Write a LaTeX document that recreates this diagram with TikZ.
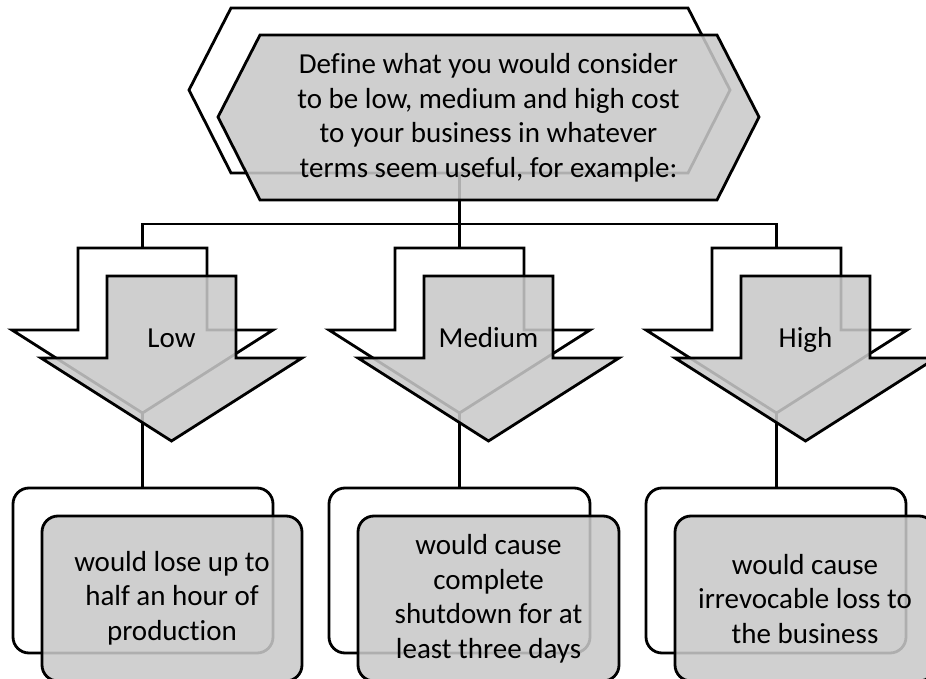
\documentclass[tikz,border=0pt]{standalone}
\usepackage{fontspec}
\setmainfont{Carlito}[Ligatures=NoCommon]
% downward block arrow: centre x, top y
\newcommand\blockarrow[2]{%
  ({#1-64.5},{#2}) -- ({#1+64.5},{#2}) -- ({#1+64.5},{#2+82}) -- ({#1+130.5},{#2+82})
  -- ({#1},{#2+165}) -- ({#1-130.5},{#2+82}) -- ({#1-64.5},{#2+82}) -- cycle}
% flat hexagon: left x, top y
\newcommand\hexpath[2]{%
  ({#1+42},{#2}) -- ({#1+499},{#2}) -- ({#1+541},{#2+82}) -- ({#1+499},{#2+165})
  -- ({#1+42},{#2+165}) -- ({#1},{#2+82}) -- cycle}
\begin{document}
\begin{tikzpicture}[x=1pt,y=-1pt,
  outline/.style={draw=black,line width=2.8pt,line join=miter},
  backshape/.style={outline,fill=white},
  frontshape/.style={outline,fill=black!21,fill opacity=0.87},
  link/.style={draw=black,line width=2.8pt},
  lbl/.style={font=\fontsize{29}{34.5}\selectfont,align=center,inner sep=0pt,text=black},
  arrowlbl/.style={lbl,anchor=base},
  roundbox/.style={rounded corners=16pt}]
\useasboundingbox (0,0) rectangle (926,679);

% connection points on the rear shapes
\coordinate (hexbot) at (459.5,173);
\coordinate (bus) at (459.5,224);
\coordinate (lowtop) at (142.5,248);
\coordinate (medtop) at (459.5,248);
\coordinate (hightop) at (776.5,248);
\coordinate (lowtip) at (142.5,413);
\coordinate (medtip) at (459.5,413);
\coordinate (hightip) at (776.5,413);
\coordinate (lowbox) at (142.5,488);
\coordinate (medbox) at (459.5,488);
\coordinate (highbox) at (776.5,488);

% connectors
\draw[link] (hexbot) -- (bus);
\draw[link] (lowtop) |- (bus) -| (hightop);
\draw[link] (bus) -- (medtop);
\draw[link] (lowtip) -- (lowbox);
\draw[link] (medtip) -- (medbox);
\draw[link] (hightip) -- (highbox);

% top hexagon
\path[backshape] \hexpath{189}{8};
\path[frontshape] \hexpath{218}{35};

% arrows
\path[backshape] \blockarrow{142.5}{248};
\path[frontshape] \blockarrow{171.5}{276};
\path[backshape] \blockarrow{459.5}{248};
\path[frontshape] \blockarrow{488.5}{276};
\path[backshape] \blockarrow{776.5}{248};
\path[frontshape] \blockarrow{805.5}{276};

% result boxes
\path[backshape,roundbox] (13,488) rectangle (273,653);
\path[frontshape,roundbox] (42,516) rectangle (302,681);
\path[backshape,roundbox] (329,488) rectangle (590,653);
\path[frontshape,roundbox] (358,516) rectangle (619,681);
\path[backshape,roundbox] (646,488) rectangle (906,653);
\path[frontshape,roundbox] (675,516) rectangle (935,681);

% texts
\node[lbl] (hextext) at (488.5,118) {Define what you would consider\\to be low, medium and high cost\\to your business in whatever\\terms seem useful, for example:};
\node[arrowlbl] (lowlbl) at (171.5,347) {Low};
\node[arrowlbl] (medlbl) at (488.5,347) {Medium};
\node[arrowlbl] (highlbl) at (805.5,347) {High};
\node[lbl] (lowtext) at (172,598) {would lose up to\\half an hour of\\production};
\node[lbl] (medtext) at (488.5,599) {would cause\\complete\\shutdown for at\\least three days};
\node[lbl] (hightext) at (805,599) {would cause\\irrevocable loss to\\the business};
\end{tikzpicture}
\end{document}
